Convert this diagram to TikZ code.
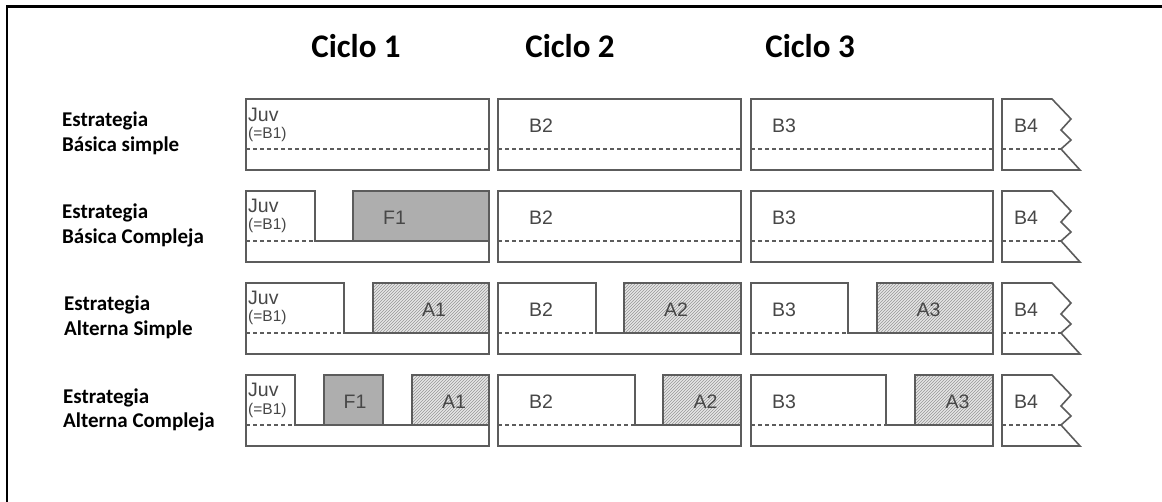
\documentclass[tikz,border=0pt]{standalone}
\usepackage{fontspec}
\setmainfont{Liberation Sans}
\newfontfamily\calfont{Carlito}
\usetikzlibrary{patterns}
\definecolor{edge}{HTML}{5C5C5C}
\definecolor{txt}{HTML}{474747}
\definecolor{ffill}{HTML}{AEAEAE}
\definecolor{afill}{HTML}{E6E6E6}
\definecolor{hatch}{HTML}{969696}
\newcommand{\fullbox}[2]{%
  \draw[box] (#1,0) rectangle (#2,71);
  \draw[dashln] (#1,50) -- (#2,50);}
% L, x1, x2, R, style of the block
\newcommand{\splitbox}[5]{%
  \fill[#5] (#3,0) rectangle (#4,50);
  \draw[box] (#1,71) -- (#1,0) -- (#2,0) -- (#2,50) -- (#3,50) -- (#3,0) -- (#4,0) -- (#4,71) -- cycle;
  \draw[box] (#2,50) -- (#4,50);
  \draw[dashln] (#1,50) -- (#2,50);}
\newcommand{\bfourbox}{%
  \draw[box] (1002,71) -- (1002,0) -- (1052,0) -- (1071,20) -- (1061,31) -- (1071,41) -- (1061,50) -- (1080,71) -- cycle;
  \draw[dashln] (1002,50) -- (1061,50);}
\begin{document}
\begin{tikzpicture}[x=1pt,y=-1pt,
  box/.style={draw=edge, line width=1.6pt, line join=miter},
  dashln/.style={draw=edge, line width=1.2pt, dash pattern=on 4pt off 3pt},
  fblock/.style={fill=ffill},
  ablock/.style={fill=afill, postaction={pattern=north east lines, pattern color=hatch}},
  lab/.style={text=txt, inner sep=0pt, font=\fontsize{19.5}{21}\selectfont},
  small/.style={text=txt, inner sep=0pt, anchor=base west, font=\fontsize{15.5}{17}\selectfont},
  head/.style={inner sep=0pt, anchor=base, font=\calfont\bfseries\fontsize{33}{36}\selectfont},
  strat/.style={inner sep=0pt, anchor=base west, align=left, font=\calfont\bfseries\fontsize{21}{25}\selectfont}]
\useasboundingbox (0,0) rectangle (1162,502);
\fill[white] (0,0) rectangle (1162,502);
\draw[line width=2.2pt, line cap=rect] (7,502) -- (7,6.5) -- (1162,6.5);

\node[head] (c1) at (356,58) {Ciclo 1};
\node[head] (c2) at (570,58) {Ciclo 2};
\node[head] (c3) at (810,58) {Ciclo 3};

% Row 1
\begin{scope}[shift={(0,99)}]
  \node[strat] (s1a) at (62,28) {Estrategia};
  \node[strat] (s1b) at (62,53) {Básica simple};
  \fullbox{246}{489}
  \node[lab, anchor=base west] (juv1) at (248,23) {Juv};
  \node[small] (b11) at (248,40) {(=B1)};
  \fullbox{498}{741}
  \node[lab, anchor=base west] (b21) at (529,34) {B2};
  \fullbox{751}{993}
  \node[lab, anchor=base west] (b31) at (772,34) {B3};
  \bfourbox
  \node[lab, anchor=base west] (b41) at (1014,34) {B4};
\end{scope}

% Row 2
\begin{scope}[shift={(0,191)}]
  \node[strat] (s2a) at (62,28) {Estrategia};
  \node[strat] (s2b) at (62,53) {Básica Compleja};
  \splitbox{246}{315}{353}{489}{fblock}
  \node[lab, anchor=base west] (juv2) at (248,22) {Juv};
  \node[small] (b12) at (248,39) {(=B1)};
  \node[lab, anchor=base] (f12) at (394.5,34) {F1};
  \fullbox{498}{741}
  \node[lab, anchor=base west] (b22) at (529,34) {B2};
  \fullbox{751}{993}
  \node[lab, anchor=base west] (b32) at (772,34) {B3};
  \bfourbox
  \node[lab, anchor=base west] (b42) at (1014,34) {B4};
\end{scope}

% Row 3
\begin{scope}[shift={(0,283)}]
  \node[strat] (s3a) at (64,28) {Estrategia};
  \node[strat] (s3b) at (64,53) {Alterna Simple};
  \splitbox{246}{344}{373}{489}{ablock}
  \node[lab, anchor=base west] (juv3) at (248,22) {Juv};
  \node[small] (b13) at (248,39) {(=B1)};
  \node[lab, anchor=base] (a13) at (434,34) {A1};
  \splitbox{498}{596}{624}{741}{ablock}
  \node[lab, anchor=base west] (b23) at (529,34) {B2};
  \node[lab, anchor=base] (a23) at (676,34) {A2};
  \splitbox{751}{848}{877}{993}{ablock}
  \node[lab, anchor=base west] (b33) at (772,34) {B3};
  \node[lab, anchor=base] (a33) at (928.5,34) {A3};
  \bfourbox
  \node[lab, anchor=base west] (b43) at (1014,34) {B4};
\end{scope}

% Row 4
\begin{scope}[shift={(0,375)}]
  \node[strat] (s4a) at (63,28) {Estrategia};
  \node[strat] (s4b) at (63,53) {Alterna Compleja};
  \fill[fblock] (324,0) rectangle (383,50);
  \fill[ablock] (412,0) rectangle (489,50);
  \draw[box] (246,71) -- (246,0) -- (295,0) -- (295,50) -- (324,50) -- (324,0) -- (383,0) -- (383,50) -- (412,50) -- (412,0) -- (489,0) -- (489,71) -- cycle;
  \draw[box] (295,50) -- (489,50);
  \draw[dashln] (246,50) -- (295,50);
  \node[lab, anchor=base west] (juv4) at (248,22) {Juv};
  \node[small] (b14) at (248,39) {(=B1)};
  \node[lab, anchor=base] (f14) at (355,34) {F1};
  \node[lab, anchor=base] (a14) at (454,34) {A1};
  \splitbox{498}{635}{663}{741}{ablock}
  \node[lab, anchor=base west] (b24) at (529,34) {B2};
  \node[lab, anchor=base] (a24) at (705.5,34) {A2};
  \splitbox{751}{886}{915}{993}{ablock}
  \node[lab, anchor=base west] (b34) at (772,34) {B3};
  \node[lab, anchor=base] (a34) at (957.5,34) {A3};
  \bfourbox
  \node[lab, anchor=base west] (b44) at (1014,34) {B4};
\end{scope}
\end{tikzpicture}
\end{document}
